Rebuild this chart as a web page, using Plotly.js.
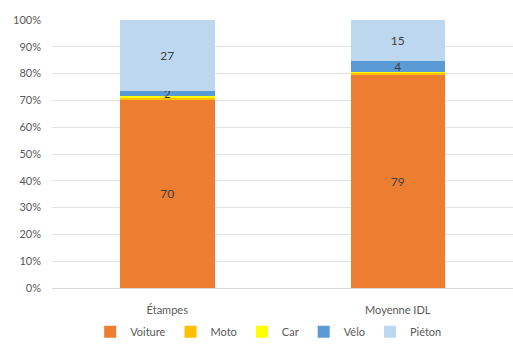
<!DOCTYPE html>
<html><head><meta charset="utf-8">
<script src="https://cdn.plot.ly/plotly-3.0.1.min.js"></script>
<style>html,body{margin:0;padding:0;background:#fff}#chart{width:513px;height:347px}</style>
</head><body><div id="chart"></div>
<script>
const categories = ["Étampes", "Moyenne IDL"];
const voiture = [70.3, 79.4];
const moto = [0.5, 0.9];
const car = [1.0, 0.2];
const velo = [1.6, 4.1];
const pieton = [26.6, 15.4];
const yTickVals = [0,10,20,30,40,50,60,70,80,90,100];
const yTickText = ["0%","10%","20%","30%","40%","50%","60%","70%","80%","90%","100%"];

const FONT = "Lato, 'Open Sans', sans-serif";
function mk(name, vals, color, showText) {
  return {
    type: 'bar', name: name, x: categories, y: vals,
    marker: {color: color, line: {width: 0}},
    text: showText ? vals.map(v => Math.round(v).toString()) : null,
    textposition: showText ? 'inside' : 'none',
    insidetextanchor: 'middle',
    textangle: 0,
    constraintext: 'none',
    textfont: {family: FONT, size: 12, color: '#404040'},
    hoverinfo: 'none'
  };
}
const data = [
  mk('Voiture', voiture, '#ED7D31', true),
  mk('Moto', moto, '#FFC000', false),
  mk('Car', car, '#FFFF00', false),
  mk('Vélo', velo, '#5B9BD5', true),
  mk('Piéton', pieton, '#BDD7EE', true)
];
const layout = {
  width: 513, height: 347,
  margin: {l: 52, r: 0, t: 20, b: 59},
  barmode: 'stack', bargap: 0.59,
  paper_bgcolor: '#fff', plot_bgcolor: '#fff',
  font: {family: FONT, size: 11, color: '#595959'},
  showlegend: true,
  legend: {orientation: 'h', x: 0.47, xanchor: 'center', y: -0.163, yanchor: 'middle',
           bgcolor: 'rgba(0,0,0,0)',
           font: {family: FONT, size: 11, color: '#595959'}, traceorder: 'normal', itemwidth: 30},
  xaxis: {type: 'category', showgrid: false, showline: true, linecolor: '#D9D9D9', linewidth: 1,
          ticks: '', tickfont: {family: FONT, size: 11, color: '#595959'}, ticklabelstandoff: 12},
  yaxis: {range: [0, 100], tickvals: yTickVals, ticktext: yTickText, showgrid: true,
          gridcolor: '#E3E3E3', gridwidth: 1, zeroline: false, showline: false, ticks: '',
          ticklabelstandoff: 10, tickfont: {family: FONT, size: 11, color: '#595959'}}
};
Plotly.newPlot('chart', data, layout, {displayModeBar: false, staticPlot: true});
</script></body></html>
